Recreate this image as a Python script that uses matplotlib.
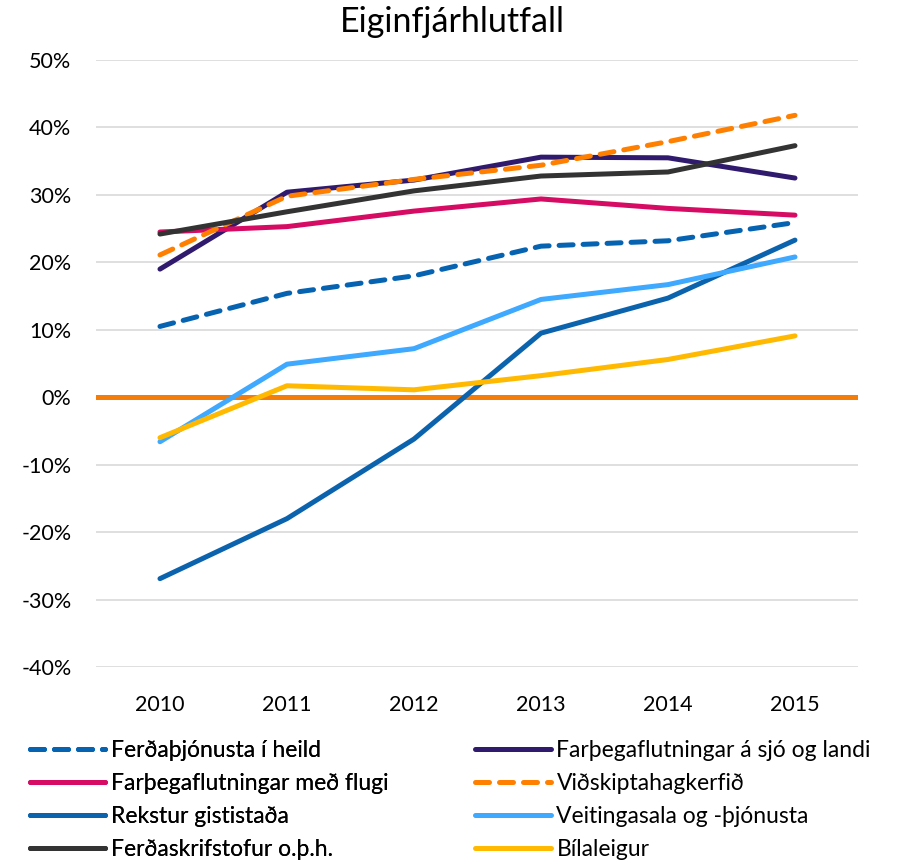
import matplotlib.pyplot as plt
from matplotlib.ticker import FuncFormatter

plt.rcParams['font.family'] = ['Lato', 'DejaVu Sans']

years = ['2010', '2011', '2012', '2013', '2014', '2015']

# eiginfjárhlutfall, %
ferdathjonusta = [10.5, 15.4, 18.0, 22.4, 23.2, 25.9]
sjo_landi = [19.0, 30.4, 32.2, 35.6, 35.5, 32.5]
flug = [24.5, 25.3, 27.6, 29.4, 28.0, 27.0]
hagkerfid = [21.1, 29.8, 32.3, 34.4, 37.9, 41.8]
gististadir = [-26.9, -18.0, -6.2, 9.5, 14.7, 23.3]
veitingar = [-6.6, 4.9, 7.2, 14.5, 16.7, 20.8]
ferdaskrifstofur = [24.2, 27.5, 30.6, 32.8, 33.4, 37.3]
bilaleigur = [-6.0, 1.7, 1.1, 3.2, 5.6, 9.1]

series = [
    ('Ferðaþjónusta í heild', ferdathjonusta, '#0563b1', True),
    ('Farþegaflutningar á sjó og landi', sjo_landi, '#2f1a6e', False),
    ('Farþegaflutningar með flugi', flug, '#d60b63', False),
    ('Viðskiptahagkerfið', hagkerfid, '#ff8000', True),
    ('Rekstur gististaða', gististadir, '#0b63ae', False),
    ('Veitingasala og -þjónusta', veitingar, '#3ea9ff', False),
    ('Ferðaskrifstofur o.þ.h.', ferdaskrifstofur, '#333333', False),
    ('Bílaleigur', bilaleigur, '#ffb900', False),
]

fig = plt.figure(figsize=(9.05, 8.65), dpi=100)
ax = fig.add_axes([0.1066, 0.2289, 0.842, 0.7017])

x = list(range(len(years)))
handles = []
for name, vals, col, dashed in series:
    if dashed:
        h, = ax.plot(x, vals, color=col, lw=3.6, label=name,
                     dashes=(2.8, 2.0), dash_capstyle='round', zorder=3)
    else:
        h, = ax.plot(x, vals, color=col, lw=3.6, label=name,
                     solid_capstyle='round', zorder=3)
    handles.append(h)

ax.axhline(0, color='#f47d0a', lw=3.6, zorder=2)

ax.set_xlim(-0.5, 5.5)
ax.set_ylim(-40, 50)
ax.set_xticks(x)
ax.set_xticklabels(years)
ax.set_yticks(range(-40, 51, 10))
ax.yaxis.set_major_formatter(FuncFormatter(lambda v, p: f'{v:.0f}%'))
ax.grid(axis='y', color='#d9d9d9', lw=1.2, zorder=0)
for s in ax.spines.values():
    s.set_visible(False)
ax.tick_params(length=0, labelsize=15.5, colors='black')
ax.tick_params(axis='x', pad=20)
ax.tick_params(axis='y', pad=18)

fig.text(0.5, 0.975, 'Eiginfjárhlutfall', fontsize=24.5, ha='center', va='center')

# two legend columns, filled row by row
leg_kw = dict(loc='upper left', frameon=False, fontsize=16.5, handlelength=3.3,
              handletextpad=0.25, labelspacing=0.52, borderpad=0, borderaxespad=0)
left = [0, 2, 4, 6]
right = [1, 3, 5, 7]
leg1 = fig.legend([handles[i] for i in left], [series[i][0] for i in left],
                  bbox_to_anchor=(0.033, 0.1445), **leg_kw)
fig.add_artist(leg1)
fig.legend([handles[i] for i in right], [series[i][0] for i in right],
           bbox_to_anchor=(0.525, 0.1445), **leg_kw)

plt.savefig('out.png', dpi=100)
